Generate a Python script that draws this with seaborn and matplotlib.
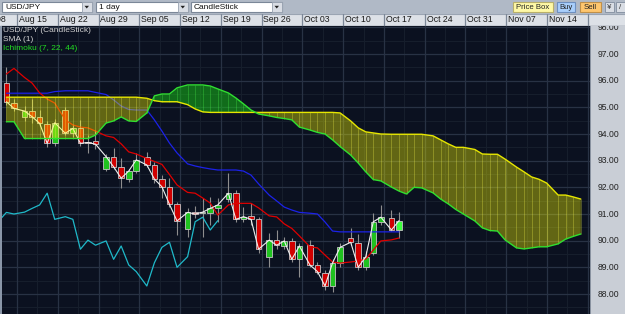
import matplotlib
matplotlib.use("Agg")
import matplotlib.pyplot as plt
from matplotlib.patches import Rectangle, Polygon
import numpy as np
import seaborn as sns

sns.set_style("dark")
plt.rcParams['font.family'] = ['Liberation Sans', 'DejaVu Sans']

# ------------------------------------------------------------------ data
week_labels = ["Aug 08", "Aug 15", "Aug 22", "Aug 29", "Sep 05", "Sep 12", "Sep 19",
               "Sep 26", "Oct 03", "Oct 10", "Oct 17", "Oct 24", "Oct 31", "Nov 07", "Nov 14"]
price_ticks = [88, 89, 90, 91, 92, 93, 94, 95, 96, 97, 98]

opens = [95.90, 95.17, 94.63, 94.86, 94.63, 94.38, 93.65, 94.90, 94.03, 94.21,
         93.70, 93.74, 92.69, 93.15, 92.77, 92.31, 92.61, 93.15, 92.84, 92.31,
         92.02, 91.36, 90.44, 91.09, 91.02, 91.05, 91.24, 91.55, 91.78, 90.80,
         90.92, 90.80, 89.38, 90.02, 89.80, 89.99, 89.30, 89.84, 89.09, 88.80,
         88.30, 89.17, 90.11, 89.90, 89.00, 89.53, 90.71, 90.86, 90.40]
highs = [96.50, 95.30, 95.05, 95.30, 94.90, 94.50, 94.55, 95.00, 94.35, 94.53,
         93.96, 94.11, 93.25, 93.47, 93.09, 92.70, 93.27, 93.34, 92.95, 92.45,
         92.34, 91.45, 91.21, 91.30, 91.60, 91.65, 91.59, 92.52, 91.90, 91.25,
         91.40, 90.90, 90.28, 90.40, 90.15, 90.10, 89.90, 90.02, 89.20, 88.90,
         89.30, 89.91, 90.46, 90.24, 89.60, 91.03, 91.34, 91.14, 91.09]
lows = [95.10, 94.85, 94.50, 94.40, 94.30, 93.50, 93.55, 93.95, 93.90, 93.55,
        93.28, 93.43, 92.60, 92.70, 91.96, 92.20, 92.55, 92.75, 92.15, 91.59,
        91.25, 90.21, 90.15, 90.85, 90.15, 90.59, 90.70, 91.45, 90.70, 90.70,
        90.60, 89.53, 89.02, 89.70, 89.70, 89.20, 88.63, 89.00, 88.75, 88.15,
        88.09, 89.00, 89.85, 88.90, 88.90, 89.45, 90.60, 90.35, 90.10]
closes = [95.21, 94.96, 94.86, 94.65, 94.40, 93.65, 94.42, 94.03, 94.21, 93.65,
          93.68, 93.62, 93.15, 92.77, 92.34, 92.61, 93.03, 92.84, 92.31, 92.02,
          91.36, 90.74, 91.06, 91.00, 91.07, 91.21, 91.34, 91.78, 90.80, 90.90,
          90.80, 89.68, 90.02, 89.83, 89.99, 89.30, 89.80, 89.09, 88.84, 88.30,
          89.17, 89.75, 89.94, 89.00, 89.40, 90.71, 90.88, 90.40, 90.75]

tenkan = [96.25, 96.46, 96.12, 95.91, 95.54, 95.31, 95.16, 94.53, 94.34, 94.26,
          94.23, 94.11, 93.93, 93.87, 93.63, 93.33, 93.25, 93.08, 92.97, 92.86,
          92.48, 92.09, 91.81, 91.78, 91.60, 91.41, 90.96, 91.34, 91.40, 91.40,
          91.40, 91.23, 90.93, 90.89, 90.63, 90.46, 90.18, 89.77, 89.73, 89.46,
          89.20, 89.16, 89.20, 89.24, 89.31, 89.65, 89.99, 90.03, 90.10]
kijun = [95.53, 95.53, 95.53, 95.53, 95.53, 95.53, 95.59, 95.62, 95.62, 95.62,
         95.62, 95.56, 95.48, 95.28, 95.05, 94.92, 94.90, 94.90, 94.53, 94.11,
         93.66, 93.29, 92.88, 92.80, 92.74, 92.69, 92.65, 92.65, 92.65, 92.61,
         92.46, 92.13, 91.71, 91.49, 91.26, 91.15, 91.06, 91.03, 91.00, 90.70,
         90.36, 90.33, 90.33, 90.33, 90.33, 90.33, 90.33, 90.33, 90.33]
senkou_a = [95.38, 95.38, 95.38, 95.38, 95.38, 95.38, 95.38, 95.38, 95.38, 95.38,
            95.38, 95.38, 95.38, 95.38, 95.38, 95.38, 95.38, 95.34, 95.25, 95.21,
            95.21, 95.21, 95.10, 94.94, 94.83, 94.81, 94.81, 94.81, 94.81, 94.81,
            94.81, 94.81, 94.81, 94.81, 94.81, 94.81, 94.81, 94.81, 94.81, 94.81,
            94.81, 94.79, 94.49, 94.23, 94.08, 94.04, 94.00, 93.99, 93.99, 93.99,
            93.99, 93.99, 93.93, 93.78, 93.63, 93.50, 93.50, 93.42, 93.25, 93.24,
            93.24, 93.06, 92.76, 92.58, 92.39, 92.30, 92.16, 91.71, 91.71, 91.64,
            91.56]
senkou_b = [94.46, 94.46, 93.83, 93.83, 93.83, 93.83, 93.83, 93.83, 93.83, 93.83,
            93.83, 93.96, 94.41, 94.49, 94.64, 94.49, 94.47, 94.79, 95.43, 95.50,
            95.50, 95.73, 95.84, 95.84, 95.84, 95.80, 95.69, 95.54, 95.35, 95.13,
            94.90, 94.75, 94.68, 94.62, 94.58, 94.53, 94.26, 94.15, 94.06, 94.00,
            93.78, 93.53, 93.21, 92.91, 92.58, 92.29, 92.24, 92.01, 91.86, 91.75,
            92.00, 91.98, 91.79, 91.56, 91.38, 91.17, 91.00, 90.74, 90.48, 90.38,
            90.36, 90.03, 89.73, 89.69, 89.73, 89.77, 89.77, 89.88, 90.06, 90.16,
            90.25]
LAG = 22

# ------------------------------------------------------------------ layout helpers
W, H = 625, 314
TOP = 26.0            # chart top (px from top)
PX0, PXS = 6.4, 7.55  # pixel of bar 0, pixels per bar unit
FIRST_WD = 3          # first bar is a Thursday


def bar_pos(i, gap=0.4):
    d = i + FIRST_WD
    return (d // 5) * (5 + gap) + (d % 5) - FIRST_WD


def px2pos(px):
    return (px - PX0) / PXS


n = len(closes)
pos = np.array([bar_pos(i) for i in range(n)])
# projected cloud bars: weekends in the future part are drawn slightly wider
cpos = np.array([bar_pos(i) if i < n else bar_pos(n - 1) + (bar_pos(i, 0.52) - bar_pos(n - 1, 0.52))
                 for i in range(len(senkou_a))])
chik_pos = np.array([bar_pos(i) for i in range(-1, n - LAG)])
chik_val = np.array(closes[LAG - 1:])
seps = np.array([5.4 * k - 4.0 for k in range(len(week_labels) + 1)])

fig = plt.figure(figsize=(W / 100, H / 100), dpi=100)
fig.patch.set_facecolor('#0b1120')

# ------------------------------------------------------------------ main chart
ax = fig.add_axes([2 / W, 0, 588 / W, (H - TOP) / H])
ax.set_facecolor('#0b1120')
ylo, yhi = 87.25, 98.05
xlo, xhi = px2pos(2), px2pos(590)

# grid
for v in np.arange(87.5, 98.5, 1.0):
    ax.axhline(v, color='#171f2d', lw=0.7, zorder=0)
for v in price_ticks:
    ax.axhline(v, color='#283244', lw=0.9, zorder=0.1)
for s in seps:
    ax.axvline(s + 2.7, color='#171f2d', lw=0.7, zorder=0)
    ax.axvline(s, color='#283244', lw=0.9, zorder=0.1)

# candles
o = np.array(opens); c = np.array(closes)
hi = np.array(highs); lo = np.array(lows)
ax.vlines(pos, lo, hi, color='#8e8e8e', lw=0.8, zorder=2)
bottoms = np.minimum(o, c)
heights = np.maximum(np.abs(c - o), 0.03)
cols = ['#1fc21f' if cc >= oo else '#d10000' for oo, cc in zip(o, c)]
cols[-1] = '#3dff3d'
ax.bar(pos, heights, bottom=bottoms, width=0.74, color=cols,
       edgecolor='#c4c4c4', linewidth=0.6, zorder=2.5)

# lines
sns.lineplot(x=chik_pos, y=chik_val, color='#1fb9c9', lw=0.9, ax=ax, zorder=3, estimator=None)
sns.lineplot(x=pos, y=kijun, color='#1c22e8', lw=0.9, ax=ax, zorder=3, estimator=None)
sns.lineplot(x=pos, y=tenkan, color='#e00000', lw=0.9, ax=ax, zorder=3, estimator=None)
sns.lineplot(x=pos, y=closes, color='#f0f0f0', lw=0.8, ax=ax, zorder=3.2, estimator=None)

# cloud
A = np.array(senkou_a); B = np.array(senkou_b)
ax.fill_between(cpos, A, B, where=A >= B, interpolate=True, color='#ffff00',
                alpha=0.36, lw=0, zorder=4)
ax.fill_between(cpos, A, B, where=B > A, interpolate=True, color='#18c818',
                alpha=0.5, lw=0, zorder=4)
vcols = ['#ffff50' if a >= b else '#50ff50' for a, b in zip(A, B)]
ax.vlines(cpos, np.minimum(A, B), np.maximum(A, B), colors=vcols, lw=0.7,
          alpha=0.28, zorder=4.1)
sns.lineplot(x=cpos, y=A, color='#e6e600', lw=1.0, ax=ax, zorder=5, estimator=None)
sns.lineplot(x=cpos, y=B, color='#30e030', lw=1.0, ax=ax, zorder=5, estimator=None)

ax.set_xlim(xlo, xhi)
ax.set_ylim(ylo, yhi)
ax.set_xticks([]); ax.set_yticks([])
ax.set_xlabel(''); ax.set_ylabel('')
for sp in ax.spines.values():
    sp.set_visible(False)

# left border
fig.add_artist(Rectangle((0, 0), 2 / W, (H - TOP) / H, transform=fig.transFigure,
                         facecolor='#8a96a8', edgecolor='none'))

# legend texts
fig.text(3 / W, 1 - 31 / H, "USD/JPY (CandleStick)", color='#d2d2d2', fontsize=6, va='center')
fig.text(3 / W, 1 - 39.5 / H, "SMA (1)", color='#d2d2d2', fontsize=6, va='center')
fig.text(3 / W, 1 - 48 / H, "Ichimoku (7, 22, 44)", color='#22dd22', fontsize=6, va='center')

# ------------------------------------------------------------------ price panel
pn = fig.add_axes([590 / W, 0, 35 / W, (H - TOP) / H])
pn.set_facecolor('#c9ced6')
pn.set_ylim(ylo, yhi); pn.set_xlim(0, 1)
pn.set_xticks([]); pn.set_yticks([])
for sp in pn.spines.values():
    sp.set_visible(False)
pn.axvline(0.0, color='#7d8796', lw=1.2)
for v in price_ticks:
    pn.text(0.22, v, f"{v:.2f}", transform=pn.get_yaxis_transform(), fontsize=6.2,
            color='#222222', va='center', ha='left', clip_on=True)

# ------------------------------------------------------------------ date header
hd = fig.add_axes([0, 1 - TOP / H, 1, 12.5 / H])
hd.set_facecolor('#dde1e7')
hd.set_xlim(px2pos(0), px2pos(W)); hd.set_ylim(0, 1)
hd.set_xticks([]); hd.set_yticks([])
for sp in hd.spines.values():
    sp.set_visible(False)
hd.axhline(0.02, color='#6f7a8a', lw=1.0)
hd.axhline(0.98, color='#9aa4b2', lw=0.8)
for s in seps:
    hd.axvline(s, color='#7c8797', lw=0.9)
for s, lab in zip(seps, week_labels):
    hd.text(s + 0.25, 0.48, lab, fontsize=6.3, color='#1a1a1a', va='center', ha='left',
            clip_on=True)

# ------------------------------------------------------------------ toolbar
tb = fig.add_axes([0, 1 - 13.5 / H, 1, 13.5 / H])
tb.set_facecolor('#b0b9c6')
tb.set_xlim(0, W); tb.set_ylim(13.5, 0)
tb.set_xticks([]); tb.set_yticks([])
for sp in tb.spines.values():
    sp.set_visible(False)

combos = [("USD/JPY", 2, 92), ("1 day", 96, 188), ("CandleStick", 191, 282)]
for txt, x0, x1 in combos:
    tb.add_patch(Rectangle((x0, 1.8), x1 - x0, 10.2, facecolor='white',
                           edgecolor='#7b8798', lw=0.8))
    tb.add_patch(Rectangle((x1 - 10, 2.3), 9.5, 9.2, facecolor='#d9dde4',
                           edgecolor='#98a2b0', lw=0.6))
    tb.add_patch(Polygon([(x1 - 7.5, 5.8), (x1 - 3, 5.8), (x1 - 5.25, 8.5)],
                         closed=True, facecolor='#202020', edgecolor='none'))
    tb.text(x0 + 3, 7.2, txt, fontsize=6, color='#111111', va='center', ha='left')

buttons = [("Price Box", 513, 553, '#fff9a6', '#b9b06a'),
           ("Buy", 557, 575, '#a9cffc', '#6e8fbf'),
           ("Sell", 580, 601, '#ffc66e', '#c0904a')]
for txt, x0, x1, fc, ec in buttons:
    tb.add_patch(Rectangle((x0, 2.2), x1 - x0, 9.8, facecolor=fc, edgecolor=ec, lw=0.8))
    tb.text((x0 + x1) / 2, 7.2, txt, fontsize=5.6, color='#222222', va='center', ha='center')
tb.add_patch(Rectangle((605, 2.2), 9, 9.8, facecolor='#d9dde4', edgecolor='#8a95a5', lw=0.7))
tb.text(609.5, 7.2, "¥", fontsize=5.6, color='#333333', va='center', ha='center')
tb.add_patch(Rectangle((616, 2.2), 9, 9.8, facecolor='#d9dde4', edgecolor='#8a95a5', lw=0.7))
tb.text(620.5, 7.2, "/", fontsize=5.6, color='#333333', va='center', ha='center')

fig.savefig("out.png", dpi=100, facecolor=fig.get_facecolor())
